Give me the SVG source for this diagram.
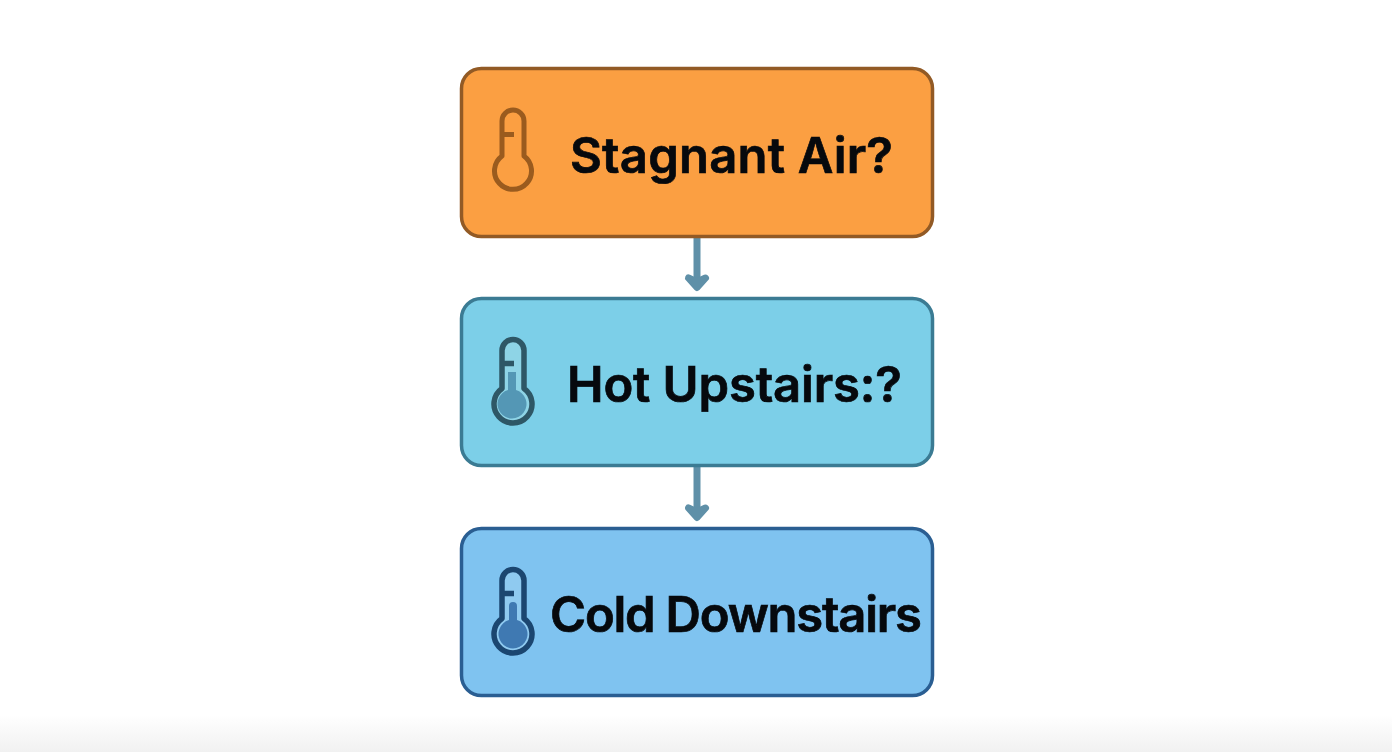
<svg xmlns="http://www.w3.org/2000/svg" width="1392" height="752" viewBox="0 0 1392 752">
<style>
.box{stroke-width:3.500}
.lbl{font-family:Inter,"Liberation Sans",sans-serif;font-weight:600;font-size:49px;fill:#06090d;stroke:#06090d;stroke-width:.7}
.t{fill:none;stroke-width:5;stroke-linejoin:round;stroke-linecap:butt}
.c{fill:none;stroke:#5f90a8;stroke-width:7}
.h{fill:#5f90a8;stroke:#5f90a8;stroke-width:7;stroke-linecap:round;stroke-linejoin:round}
</style>
<defs>
<linearGradient id="bot" x1="0" y1="0" x2="0" y2="1"><stop offset="0" stop-color="#fff"/><stop offset="1" stop-color="#f1f1f1"/></linearGradient>
</defs>
<rect width="1392" height="752" fill="#fff"/>
<rect y="715" width="1392" height="37" fill="url(#bot)"/>
<g id="connectors">
<path class="c" d="M697 237V286"/><path class="h" d="M688.500 278L697 287.500L705.500 278L697 282Z"/>
<path class="c" d="M697 466V516"/><path class="h" d="M688.500 508L697 517.500L705.500 508L697 512Z"/>
</g>
<g id="node-stagnant">
<rect class="box" x="461.500" y="68.500" width="471" height="168" rx="20" fill="#fb9f42" stroke="#925a25"/>
<path class="t" stroke="#9a5b1e" d="M502 156V121a11 11 0 0 1 22 0V156A18.500 18.500 0 1 1 502 156ZM503 134.500H514"/>
<text class="lbl" x="570" y="173" textLength="323" lengthAdjust="spacing">Stagnant Air?</text>
</g>
<g id="node-hot">
<rect class="box" x="461.500" y="298.500" width="471" height="167" rx="20" fill="#7ccfe8" stroke="#3b7b93"/>
<path d="M502 388.500V350.500a11 11 0 0 1 22 0V388.500A19 19 0 1 1 502 388.500Z" fill="#8ed4e6"/>
<path d="M508 372H516V390A14.500 14.500 0 1 1 508 390Z" fill="#5497b5"/>
<path class="t" style="stroke-width:5.500" stroke="#2e5766" d="M502 388.500V350.500a11 11 0 0 1 22 0V388.500A19 19 0 1 1 502 388.500ZM503 363.500H514"/>
<text class="lbl" x="567" y="401.500" textLength="335" lengthAdjust="spacing">Hot Upstairs:?</text>
</g>
<g id="node-cold">
<rect class="box" x="461.500" y="528.500" width="471" height="167" rx="20" fill="#7fc3f0" stroke="#2a5e92"/>
<path d="M502 618.500V580.500a11 11 0 0 1 22 0V618.500A19 19 0 1 1 502 618.500Z" fill="#8fcaf0"/>
<path d="M509 606a4 4 0 0 1 8 0V620A14.500 14.500 0 1 1 509 620Z" fill="#3f79b2"/>
<path class="t" style="stroke-width:5.500" stroke="#1b4670" d="M502 618.500V580.500a11 11 0 0 1 22 0V618.500A19 19 0 1 1 502 618.500ZM503 593.500H514"/>
<text class="lbl" x="550" y="632" textLength="372" lengthAdjust="spacing">Cold Downstairs</text>
</g>
</svg>
